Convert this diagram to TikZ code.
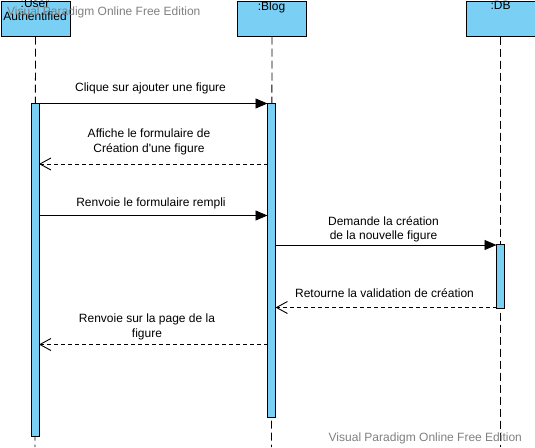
\documentclass[tikz,border=0pt]{standalone}
\usepackage{fontspec}
\newfontfamily\lab{Liberation Sans}
\usetikzlibrary{arrows.meta}
\definecolor{actblue}{RGB}{122,207,245}
\definecolor{wmgray}{RGB}{128,128,128}
\begin{document}
\begin{tikzpicture}[x=1pt,y=-1pt,
  font=\lab\fontsize{12}{14.3}\selectfont,
  headbox/.style={draw=black,fill=actblue,line width=1pt,minimum width=69pt,minimum height=35pt,anchor=north west,inner sep=0pt},
  headtext/.style={anchor=north,inner sep=0pt,align=center,font=\lab\fontsize{12}{13.5}\selectfont},
  actbar/.style={draw=black,fill=actblue,line width=0.8pt,minimum width=8pt,anchor=north,inner sep=0pt},
  lifeline/.style={draw=black,line width=0.9pt,dash pattern=on 8pt off 4pt},
  syncmsg/.style={draw=black,line width=0.9pt,-{Triangle[length=12pt,width=10pt]}},
  retmsg/.style={draw=black,line width=0.9pt,dash pattern=on 4pt off 3pt,-{Straight Barb[length=11pt,width=12pt]}},
  msglabel/.style={anchor=base,align=center,inner sep=0pt},
  watermark/.style={anchor=base west,inner sep=0pt,text=wmgray,font=\lab\fontsize{12}{14}\selectfont}]
\useasboundingbox (0,0) rectangle (535,447);
% heads
\node[headbox] (user) at (0.5,0.5) {};
\node[headbox] (blog) at (237,0.5) {};
\node[headbox] (db) at (465.5,0.5) {};
\node[headtext] (usertext) at (35,-1) {:User\\Authentified};
\node[headtext] (blogtext) at (271.5,1.5) {:Blog};
\node[headtext] (dbtext) at (500.5,1.5) {:DB};
% lifelines
\coordinate (uend) at (35,447);
\coordinate (bend) at (271.5,447);
\coordinate (dend) at (500.5,447);
\draw[lifeline] (user.south) -- (uend);
\draw[lifeline] (blog.south) -- (bend);
\draw[lifeline] (db.south) -- (dend);
% activations
\node[actbar,minimum height=333pt] (uact) at (35,103) {};
\node[actbar,minimum height=313.5pt] (bact) at (271.5,103) {};
\node[actbar,minimum height=64pt] (dact) at (500.5,244) {};
% message anchors
\coordinate (m1s) at (39,103.5);   \coordinate (m1e) at (267.5,103.5);
\coordinate (m2s) at (267.5,164);  \coordinate (m2e) at (39,164);
\coordinate (m3s) at (39,215.5);   \coordinate (m3e) at (267.5,215.5);
\coordinate (m4s) at (275.5,245);  \coordinate (m4e) at (496.5,245);
\coordinate (m5s) at (496.5,307.5);\coordinate (m5e) at (275.5,307.5);
\coordinate (m6s) at (267.5,344.5);\coordinate (m6e) at (39,344.5);
\draw[syncmsg] (m1s) -- (m1e);
\draw[retmsg] (m2s) -- (m2e);
\draw[syncmsg] (m3s) -- (m3e);
\draw[syncmsg] (m4s) -- (m4e);
\draw[retmsg] (m5s) -- (m5e);
\draw[retmsg] (m6s) -- (m6e);
% labels (base = baseline of last line)
\node[msglabel] (l1) at (150.5,91.5) {Clique sur ajouter une figure};
\node[msglabel] (l2) at (149,152) {Affiche le formulaire de\\Création d'une figure};
\node[msglabel] (l3) at (151,206) {Renvoie le formulaire rempli};
\node[msglabel] (l4) at (383.5,239.5) {Demande la création\\de la nouvelle figure};
\node[msglabel] (l5) at (384.5,297.5) {Retourne la validation de création};
\node[msglabel] (l6) at (147,337) {Renvoie sur la page de la\\figure};
% watermarks
\node[watermark] (wm1) at (7,16) {Visual Paradigm Online Free Edition};
\node[watermark] (wm2) at (328.5,441.5) {Visual Paradigm Online Free Edition};
\end{tikzpicture}
\end{document}
